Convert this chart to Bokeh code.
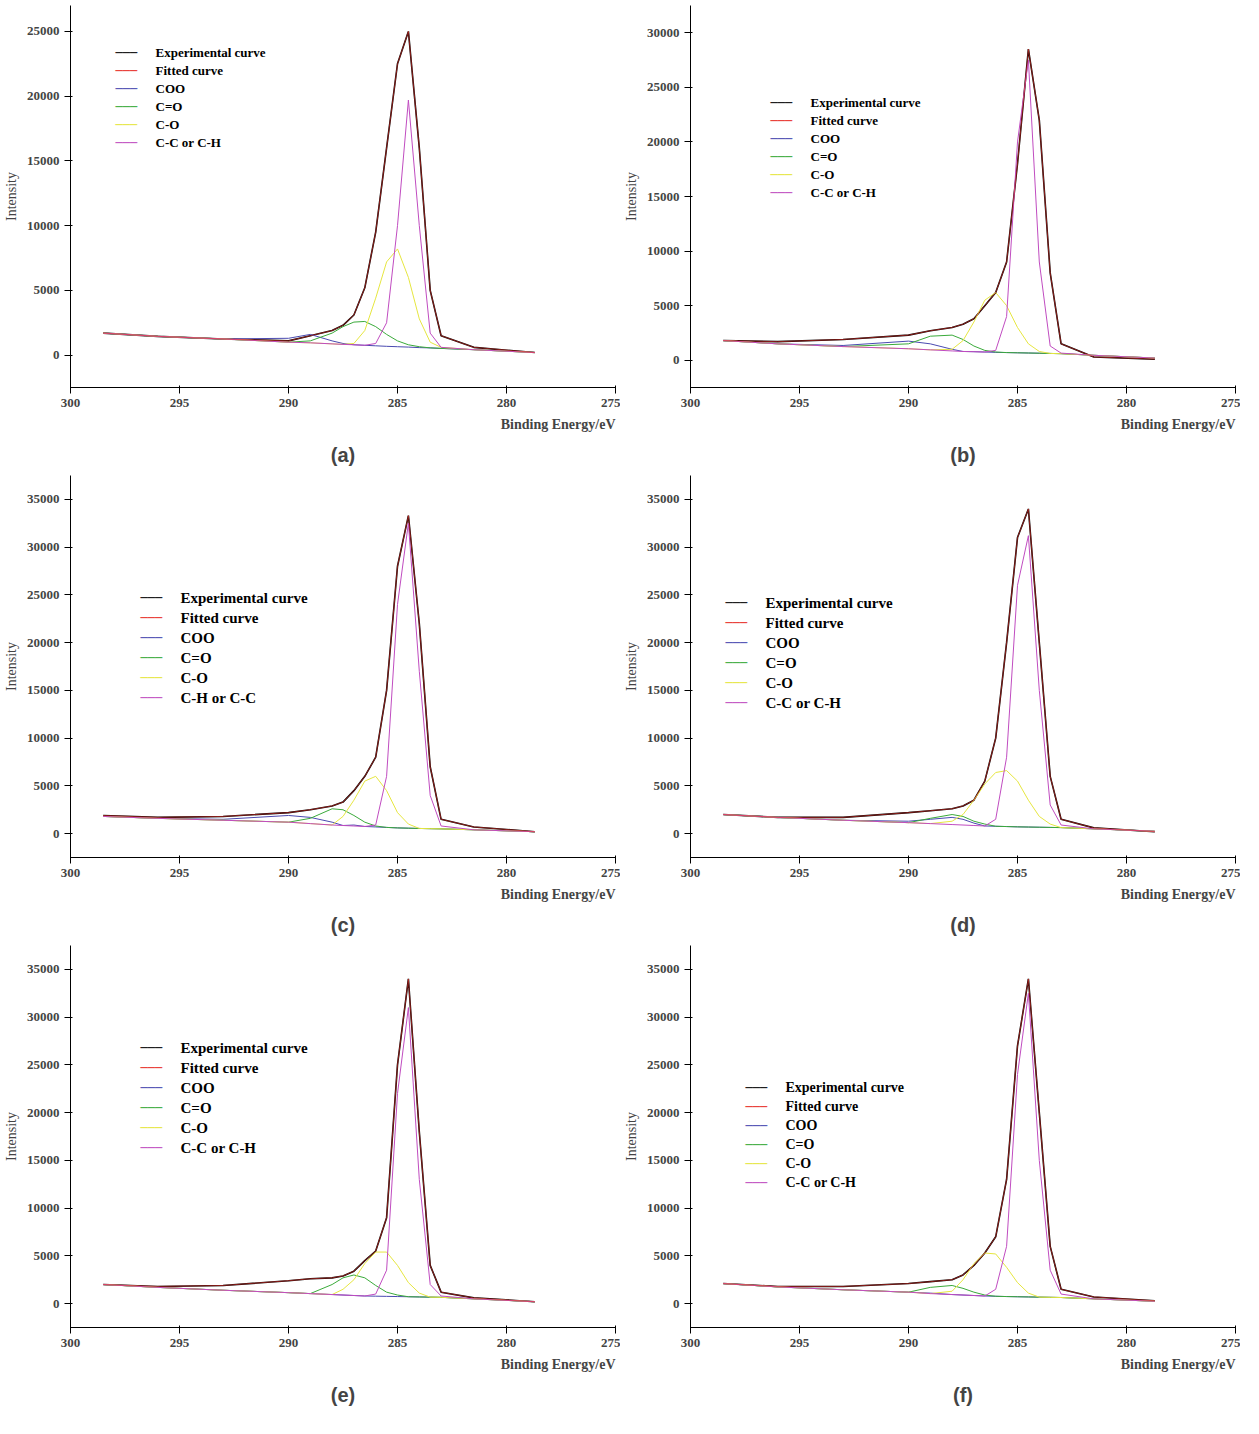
from bokeh.plotting import figure
from bokeh.models import Range1d, Title, Label, FixedTicker
from bokeh.layouts import gridplot
from bokeh.embed import file_html
from bokeh.resources import INLINE

X = [298.5, 296, 293, 290, 289, 288, 287.5, 287, 286.5, 286, 285.5, 285, 284.5, 284, 283.5, 283, 281.5, 278.7]

# (a)
A_EXP = [1700, 1450, 1250, 1100, 1500, 1900, 2300, 3100, 5200, 9500, 16000, 22500, 25000, 16000, 5000, 1500, 600, 200]
A_BASE = [1700, 1450, 1250, 1000, 950, 870, 830, 800, 760, 720, 680, 650, 620, 580, 560, 520, 420, 200]
A_CC = {286: 900, 285.5: 2500, 285: 10000, 284.5: 19700, 284: 10000, 283.5: 1700, 283: 600}
A_CO = {287: 900, 286.5: 1900, 286: 4400, 285.5: 7200, 285: 8200, 284.5: 6000, 284: 2800, 283.5: 1000, 283: 600}
A_C2O = {289: 1100, 288: 1700, 287.5: 2200, 287: 2550, 286.5: 2600, 286: 2200, 285.5: 1600, 285: 1100, 284.5: 800, 284: 650}
A_COO = {290: 1300, 289: 1600, 288: 1100, 287.5: 900}

# (b)
B_EXP = [1800, 1700, 1900, 2300, 2700, 3000, 3300, 3800, 5000, 6200, 9000, 18000, 28500, 22000, 8000, 1500, 300, 100]
B_BASE = [1800, 1500, 1250, 1050, 950, 850, 800, 780, 750, 720, 700, 680, 660, 640, 620, 600, 450, 200]
B_CC = {286: 900, 285.5: 4000, 285: 20000, 284.5: 27500, 284: 9000, 283.5: 1300, 283: 650}
B_CO = {288: 1000, 287.5: 1800, 287: 3500, 286.5: 5500, 286: 6200, 285.5: 5000, 285: 3000, 284.5: 1500, 284: 800}
B_C2O = {290: 1500, 289: 2200, 288: 2300, 287.5: 1900, 287: 1300, 286.5: 900, 286: 750}
B_COO = {293: 1350, 290: 1750, 289: 1500, 288: 1000}

# (c)
C_EXP = [1900, 1700, 1800, 2200, 2500, 2900, 3300, 4500, 6000, 8000, 15000, 28000, 33300, 22000, 7000, 1500, 700, 200]
C_BASE = [1800, 1600, 1400, 1200, 1050, 900, 850, 800, 750, 700, 650, 600, 570, 540, 520, 500, 400, 200]
C_CC = {286: 900, 285.5: 6000, 285: 24000, 284.5: 32500, 284: 17000, 283.5: 4000, 283: 800}
C_CO = {287.5: 1800, 287: 3500, 286.5: 5500, 286: 6000, 285.5: 4500, 285: 2200, 284.5: 1000}
C_C2O = {289: 1600, 288: 2600, 287.5: 2500, 287: 1900, 286.5: 1200, 286: 800}
C_COO = {293: 1500, 290: 1900, 289: 1700, 288: 1200, 287: 900}

# (d)
D_EXP = [2000, 1700, 1700, 2200, 2400, 2600, 2900, 3500, 5500, 10000, 20000, 31000, 34000, 20000, 6000, 1500, 600, 200]
D_BASE = [2000, 1700, 1400, 1150, 1050, 950, 900, 850, 800, 770, 740, 710, 690, 670, 650, 630, 500, 250]
D_CC = {286: 1500, 285.5: 8000, 285: 26000, 284.5: 31200, 284: 15000, 283.5: 3000, 283: 900}
D_CO = {288: 1300, 287.5: 2000, 287: 3500, 286.5: 5200, 286: 6400, 285.5: 6600, 285: 5500, 284.5: 3500, 284: 1800, 283.5: 1000}
D_C2O = {289: 1600, 288: 2000, 287.5: 1800, 287: 1300, 286.5: 1000}
D_COO = {290: 1300, 289: 1500, 288: 1700, 287.5: 1500, 287: 1100}

# (e)
E_EXP = [2000, 1800, 1900, 2400, 2600, 2700, 2900, 3400, 4500, 5500, 9000, 25000, 34000, 18000, 4000, 1200, 600, 200]
E_BASE = [2000, 1700, 1400, 1150, 1050, 950, 900, 850, 800, 780, 760, 740, 720, 700, 680, 660, 500, 200]
E_CC = {286: 1000, 285.5: 3500, 285: 22000, 284.5: 31000, 284: 13000, 283.5: 2000, 283: 800}
E_CO = {287.5: 1500, 287: 2500, 286.5: 4200, 286: 5400, 285.5: 5400, 285: 4000, 284.5: 2200, 284: 1100}
E_C2O = {288: 2000, 287.5: 2700, 287: 3000, 286.5: 2700, 286: 1900, 285.5: 1200, 285: 900}
E_COO = {}

# (f)
F_EXP = [2100, 1800, 1800, 2100, 2300, 2500, 3000, 4000, 5300, 7000, 13000, 27000, 34000, 20000, 6000, 1500, 700, 300]
F_BASE = [2100, 1750, 1450, 1200, 1050, 950, 900, 850, 800, 770, 740, 720, 700, 680, 660, 640, 500, 250]
F_CC = {286: 1500, 285.5: 6000, 285: 24000, 284.5: 32500, 284: 15000, 283.5: 3500, 283: 1000}
F_CO = {288: 1300, 287.5: 2500, 287: 4200, 286.5: 5300, 286: 5200, 285.5: 3800, 285: 2200, 284.5: 1100}
F_C2O = {289: 1700, 288: 1900, 287.5: 1600, 287: 1200, 286.5: 900}
F_COO = {290: 1200, 289: 1100}

LABELS = ["Experimental curve", "Fitted curve", "COO", "C=O", "C-O", "C-C or C-H"]
LABELS_C = ["Experimental curve", "Fitted curve", "COO", "C=O", "C-O", "C-H or C-C"]
COLORS = ["black", "#e8302a", "#4a4ab0", "#3aaa3a", "#e6e640", "#c04cc0"]

# name, curves..., y top, legend labels, font size, legend top-left (x, y) from bottom-left of plot area
PANELS = [
    ("(a)", A_EXP, A_BASE, A_COO, A_C2O, A_CO, A_CC, 27000, LABELS, 13, (45, 335)),
    ("(b)", B_EXP, B_BASE, B_COO, B_C2O, B_CO, B_CC, 32500, LABELS, 13, (80, 285)),
    ("(c)", C_EXP, C_BASE, C_COO, C_C2O, C_CO, C_CC, 37500, LABELS_C, 15, (70, 260)),
    ("(d)", D_EXP, D_BASE, D_COO, D_C2O, D_CO, D_CC, 37500, LABELS, 15, (35, 255)),
    ("(e)", E_EXP, E_BASE, E_COO, E_C2O, E_CO, E_CC, 37500, LABELS, 15, (70, 280)),
    ("(f)", F_EXP, F_BASE, F_COO, F_C2O, F_CO, F_CC, 37500, LABELS, 14, (55, 240)),
]


def comp(base, peak):
    return [peak.get(x, b) for x, b in zip(X, base)]


def panel(name, exp, base, coo, c2o, co, cc, ytop, labels, fs, loc):
    p = figure(width=620, height=470, output_backend="svg", toolbar_location=None,
               x_range=Range1d(300, 275), y_range=Range1d(-2500, ytop))
    p.xgrid.visible = False
    p.ygrid.visible = False
    p.outline_line_color = None
    p.background_fill_color = "white"
    p.border_fill_color = "white"
    p.xaxis.ticker = FixedTicker(ticks=[300, 295, 290, 285, 280, 275])
    p.yaxis.ticker = FixedTicker(ticks=list(range(0, 40000, 5000)))
    for ax in (p.xaxis, p.yaxis):
        ax.major_label_text_font = "Liberation Serif"
        ax.major_label_text_font_style = "bold"
        ax.major_label_text_font_size = "13px"
        ax.minor_tick_line_color = None
        ax.axis_label_text_font = "Liberation Serif"
        ax.axis_label_text_font_size = "14px"
    p.yaxis.axis_label = "Intensity"
    p.yaxis.axis_label_text_font_style = "normal"

    p.line(X, exp, color=COLORS[0], line_width=1.6)
    p.line(X, comp(base, coo), color=COLORS[2], line_width=1)
    p.line(X, comp(base, c2o), color=COLORS[3], line_width=1)
    p.line(X, comp(base, co), color=COLORS[4], line_width=1)
    p.line(X, comp(base, cc), color=COLORS[5], line_width=1)
    p.line(X, exp, color=COLORS[1], line_width=0.6)

    # hand-made legend (line sample + label)
    x0, y0 = loc
    step = fs + 5
    for i, (lab, col) in enumerate(zip(labels, COLORS)):
        y = y0 - i * step
        p.add_layout(Label(x=x0, y=y, x_units="screen", y_units="screen", text="\u2500\u2500\u2500",
                           text_font="DejaVu Sans Mono", text_font_size="12px", text_color=col,
                           text_baseline="middle"))
        p.add_layout(Label(x=x0 + 40, y=y, x_units="screen", y_units="screen", text=lab,
                           text_font="Liberation Serif", text_font_style="bold",
                           text_font_size="%dpx" % fs, text_color="black", text_baseline="middle"))

    p.add_layout(Title(text="Binding Energy/eV", align="right", text_font="Liberation Serif",
                       text_font_size="14px"), "below")
    p.add_layout(Title(text=name, align="center", text_font="Arial", text_font_size="20px",
                       text_font_style="bold"), "below")
    return p


figs = [panel(*pp) for pp in PANELS]
grid = gridplot([figs[0:2], figs[2:4], figs[4:6]], toolbar_location=None)
open("out.html", "w").write(file_html(grid, INLINE))
